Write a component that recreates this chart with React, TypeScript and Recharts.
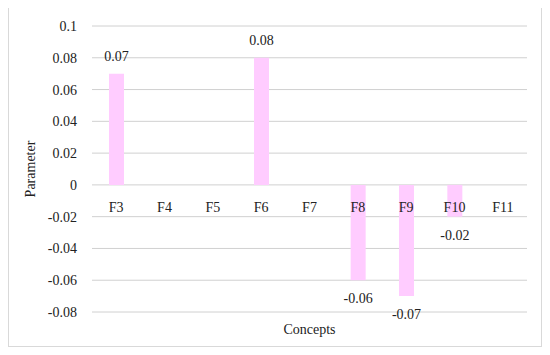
import {
  Bar,
  CartesianGrid,
  ComposedChart,
  LabelList,
  Line,
  XAxis,
  YAxis,
} from "recharts"

const concepts = ["F3", "F4", "F5", "F6", "F7", "F8", "F9", "F10", "F11"]
const parameters = [0.07, 0, 0, 0.08, 0, -0.06, -0.07, -0.02, 0]
const yTicks = [-0.08, -0.06, -0.04, -0.02, 0, 0.02, 0.04, 0.06, 0.08, 0.1]

// "axis" is the zero baseline used to put category names on the 0 line
const data = concepts.map((name, i) => ({
  name,
  value: parameters[i],
  axis: 0,
}))

const font = "'Liberation Serif', 'Times New Roman', serif"
const textColor = "#222222"

const fmt = (v: number) => String(Number(v.toFixed(2)))

export default function App() {
  return (
    <div
      style={{
        width: 532,
        height: 339,
        border: "1px solid #d9d9d9",
        marginTop: -2,
        fontFamily: font,
      }}
    >
      <style>{`.recharts-wrapper text, .recharts-text { font-family: ${font} !important; }`}</style>
      <ComposedChart
        width={532}
        height={339}
        data={data}
        margin={{ top: 19, right: 14, left: 0, bottom: 0 }}
        style={{ fontFamily: font }}
      >
        <CartesianGrid vertical={false} stroke="#d0d0d0" />
        <XAxis
          dataKey="name"
          height={34}
          tick={false}
          axisLine={false}
          tickLine={false}
          label={{
            value: "Concepts",
            position: "center",
            fill: textColor,
            fontSize: 14,
          }}
        />
        <YAxis
          width={83}
          domain={[-0.08, 0.1]}
          ticks={yTicks}
          tickFormatter={fmt}
          axisLine={false}
          tickLine={false}
          tickMargin={9}
          tick={{ fill: textColor, fontSize: 14 }}
          label={{
            content: ({ viewBox }: any) => {
              const x = viewBox.x + 21
              const y = viewBox.y + viewBox.height / 2
              return (
                <text
                  x={x}
                  y={y}
                  transform={`rotate(-90, ${x}, ${y})`}
                  textAnchor="middle"
                  dominantBaseline="central"
                  fill={textColor}
                  fontSize={14}
                >
                  Parameter
                </text>
              )
            },
          }}
        />
        <Bar dataKey="value" fill="#ffccff" barSize={15} isAnimationActive={false}>
          <LabelList
            dataKey="value"
            position="top"
            offset={13}
            fill={textColor}
            fontSize={14}
            formatter={(v: any) => (v ? fmt(v) : "")}
          />
        </Bar>
        <Line
          dataKey="axis"
          stroke="none"
          dot={false}
          activeDot={false}
          isAnimationActive={false}
        >
          <LabelList
            dataKey="name"
            position="bottom"
            offset={17}
            fill={textColor}
            fontSize={14}
          />
        </Line>
      </ComposedChart>
    </div>
  )
}
